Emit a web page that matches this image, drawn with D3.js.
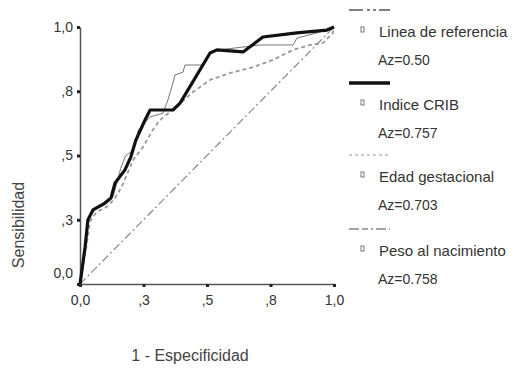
<!DOCTYPE html>
<html>
<head>
<meta charset="utf-8">
<script src="https://cdn.jsdelivr.net/npm/d3@7"></script>
<style>
    body { margin: 0; background: #fff; }
    svg { display: block; font-family: "Liberation Sans", Arial, sans-serif; }
</style>
</head>
<body>
<div id="chart"></div>
<script>
// datos de la curva ROC
const seriesNames = ["Linea de referencia", "Indice CRIB", "Edad gestacional", "Peso al nacimiento"];
const areaLabels = ["Az=0.50", "Az=0.757", "Az=0.703", "Az=0.758"];
const tickValues = [0, 0.25, 0.5, 0.75, 1];
const tickLabels = ["0,0", ",3", ",5", ",8", "1,0"];

const refFpr = [0, 1];
const refTpr = [0, 1];

const cribFpr = [0, 0.004, 0.02, 0.031, 0.051, 0.098, 0.122, 0.138, 0.177, 0.2, 0.22, 0.256, 0.276, 0.366, 0.394, 0.512, 0.539, 0.642, 0.72, 0.854, 0.972, 1];
const cribTpr = [0, 0.027, 0.144, 0.249, 0.288, 0.315, 0.335, 0.393, 0.444, 0.494, 0.56, 0.638, 0.677, 0.677, 0.704, 0.899, 0.911, 0.903, 0.961, 0.977, 0.988, 1];

const edadFpr = [0, 0.006, 0.024, 0.04, 0.065, 0.105, 0.135, 0.165, 0.209, 0.248, 0.287, 0.315, 0.374, 0.445, 0.512, 0.591, 0.681, 0.76, 0.839, 0.906, 0.957, 0.996, 1];
const edadTpr = [0, 0.03, 0.14, 0.245, 0.28, 0.3, 0.33, 0.38, 0.482, 0.533, 0.6, 0.638, 0.685, 0.747, 0.794, 0.821, 0.844, 0.872, 0.911, 0.93, 0.938, 0.977, 1];

const pesoFpr = [0, 0.004, 0.02, 0.035, 0.06, 0.1, 0.13, 0.15, 0.16, 0.18, 0.21, 0.23, 0.276, 0.327, 0.346, 0.366, 0.374, 0.406, 0.413, 0.48, 0.5, 0.52, 0.539, 0.709, 0.839, 0.854, 0.933, 1];
const pesoTpr = [0, 0.03, 0.15, 0.26, 0.29, 0.31, 0.34, 0.41, 0.45, 0.5, 0.52, 0.6, 0.65, 0.665, 0.716, 0.782, 0.813, 0.825, 0.852, 0.852, 0.88, 0.903, 0.91, 0.93, 0.93, 0.957, 0.977, 1];

const width = 525, height = 369;

const svg = d3.select("#chart")
    .append("svg")
    .attr("width", width)
    .attr("height", height);

const x = d3.scaleLinear().domain([0, 1]).range([80, 334]);
const y = d3.scaleLinear().domain([0, 1]).range([284, 27]);

// estilos de cada serie
const styles = [
    { color: "#888", width: 1.2, dash: "8,3,2,3" },
    { color: "#111", width: 3.2, dash: null },
    { color: "#999", width: 1.8, dash: "4,3" },
    { color: "#777", width: 1, dash: null }
];

const zip = (a, b) => a.map((v, i) => [v, b[i]]);
const curves = [zip(refFpr, refTpr), zip(cribFpr, cribTpr), zip(edadFpr, edadTpr), zip(pesoFpr, pesoTpr)];

const line = d3.line().x(d => x(d[0])).y(d => y(d[1]));

// ejes
const xAxis = svg.append("g")
    .attr("transform", `translate(0,${y(0)})`)
    .call(d3.axisBottom(x).tickValues(tickValues)
        .tickFormat((d, i) => tickLabels[i]).tickSizeInner(3).tickSizeOuter(0).tickPadding(8));

const yAxis = svg.append("g")
    .attr("transform", `translate(${x(0)},0)`)
    .call(d3.axisLeft(y).tickValues(tickValues)
        .tickFormat((d, i) => tickLabels[i]).tickSizeInner(3).tickSizeOuter(0).tickPadding(4));

[xAxis, yAxis].forEach(ax => {
    ax.select(".domain").attr("stroke", "#555").attr("stroke-width", 1.5);
    ax.selectAll(".tick line").attr("stroke", "#222").attr("stroke-width", 3);
    ax.selectAll(".tick text").attr("fill", "#333").attr("font-size", 14);
});
// la etiqueta 0,0 del eje y queda algo por encima
yAxis.selectAll(".tick text").filter(d => d === 0).attr("dy", "-0.5em");

// curvas (referencia primero, CRIB al final encima)
[0, 2, 3, 1].forEach(i => {
    svg.append("path")
        .datum(curves[i])
        .attr("d", line)
        .attr("fill", "none")
        .attr("stroke", styles[i].color)
        .attr("stroke-width", styles[i].width)
        .attr("stroke-dasharray", styles[i].dash)
        .attr("stroke-linejoin", "round");
});

// títulos de los ejes
svg.append("text")
    .attr("transform", "translate(24,225) rotate(-90)")
    .attr("text-anchor", "middle")
    .attr("font-size", 16)
    .attr("fill", "#444")
    .text("Sensibilidad");

svg.append("text")
    .attr("x", 190)
    .attr("y", 361)
    .attr("text-anchor", "middle")
    .attr("font-size", 16)
    .attr("fill", "#444")
    .text("1 - Especificidad");

// leyenda
const legendStyles = [
    { color: "#555", width: 1.5, dash: "14,4,3,3,3,3" },
    { color: "#111", width: 3.5, dash: null },
    { color: "#bbb", width: 1.5, dash: "3,3" },
    { color: "#888", width: 1.5, dash: "10,3,6,3,2,3" }
];
const legendY = [10, 83, 155, 229];

const legend = svg.append("g");
seriesNames.forEach((name, i) => {
    const ly = legendY[i];
    const st = legendStyles[i];
    legend.append("line")
        .attr("x1", 349).attr("x2", 390)
        .attr("y1", ly).attr("y2", ly)
        .attr("stroke", st.color)
        .attr("stroke-width", st.width)
        .attr("stroke-dasharray", st.dash);
    legend.append("rect")
        .attr("x", 361).attr("y", ly + 17)
        .attr("width", 3).attr("height", 5)
        .attr("fill", "none")
        .attr("stroke", "#777")
        .attr("stroke-width", 1);
    legend.append("text")
        .attr("x", 379).attr("y", ly + 27)
        .attr("font-size", 15)
        .attr("fill", "#333")
        .text(name);
    legend.append("text")
        .attr("x", 378).attr("y", ly + 55)
        .attr("font-size", 14)
        .attr("fill", "#333")
        .text(areaLabels[i]);
});
</script>
</body>
</html>
